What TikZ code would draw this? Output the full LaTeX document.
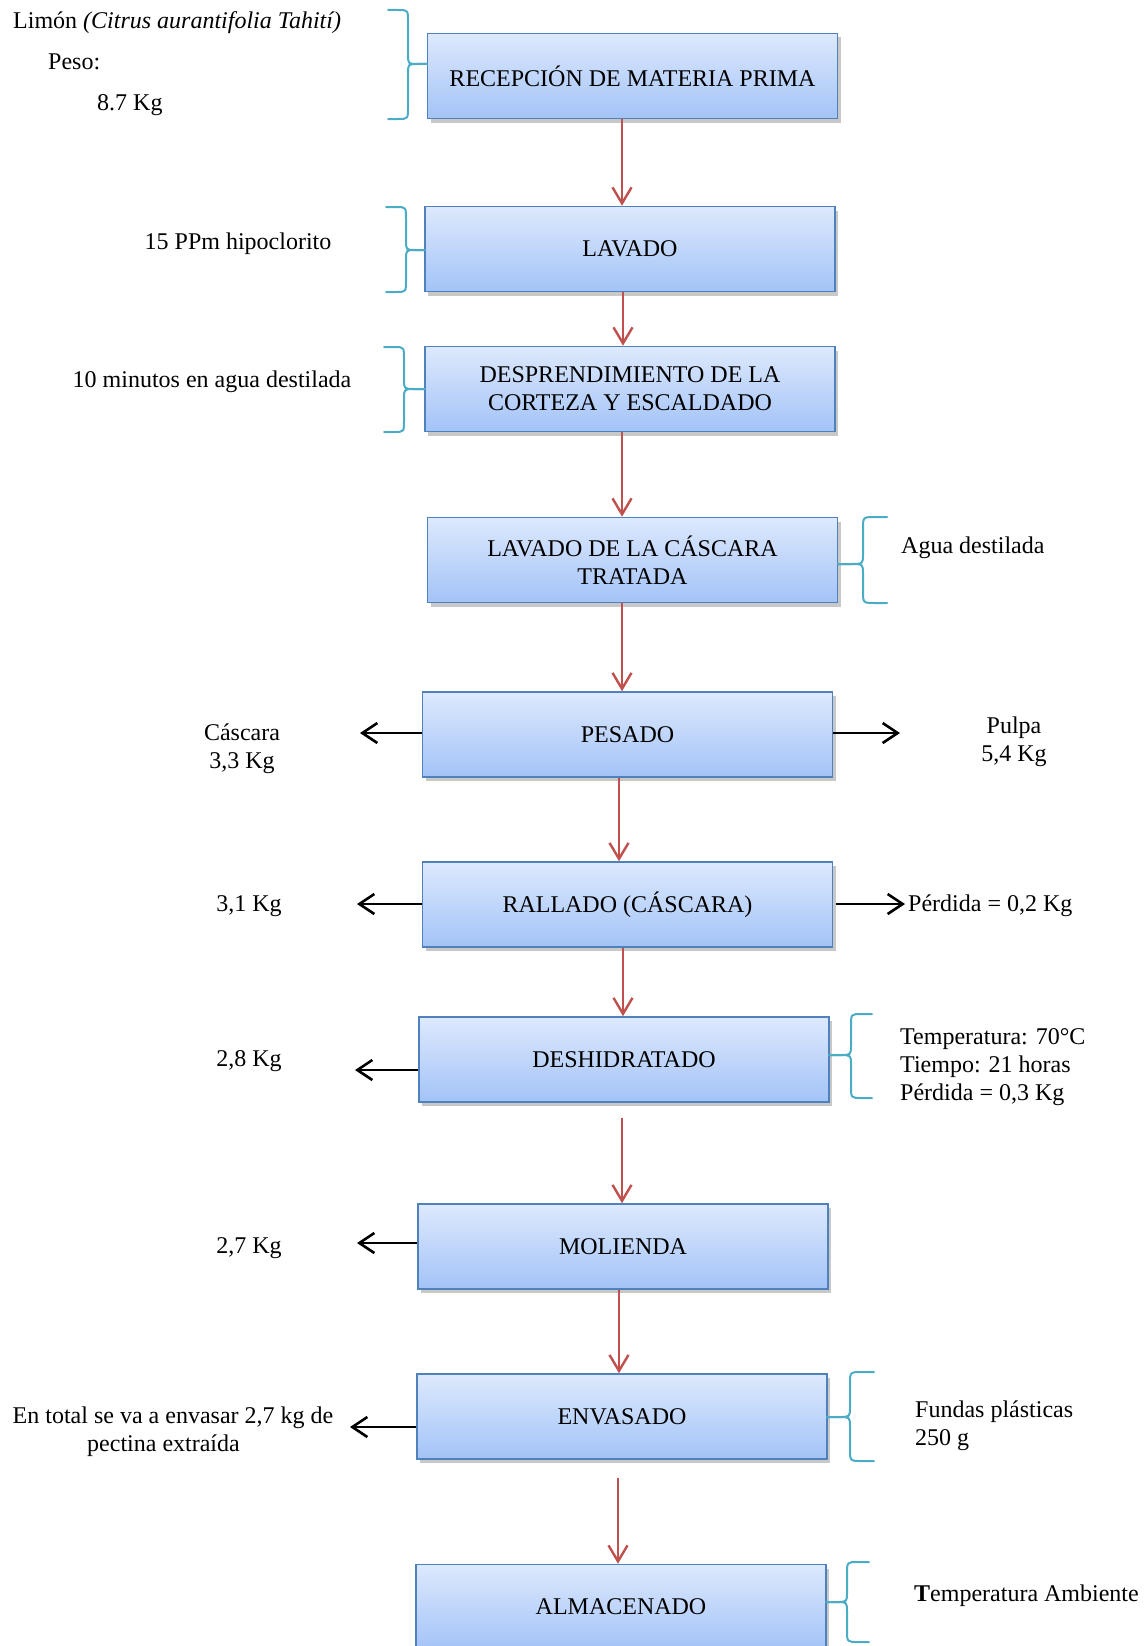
\documentclass[tikz,border=0pt]{standalone}
\usepackage{fontspec}
\setmainfont{Liberation Serif}
\usetikzlibrary{arrows.meta,shadows}
\definecolor{boxline}{HTML}{4F81BD}
\definecolor{boxtop}{HTML}{DDE9FD}
\definecolor{boxbot}{HTML}{A3C3F7}
\definecolor{bracecol}{HTML}{4BACC6}
\definecolor{redline}{HTML}{C0504D}
\newcommand\MyBrace[6]{%
  \draw[bracestyle] (#1,#4) -- ({(#1+#2)/2},#4) .. controls (#2,#4) .. (#2,{#4+12}) -- (#2,{#5-10}) .. controls (#2,#5) .. ({(#2+#3)/2},#5) -- (#3,#5);
  \draw[bracestyle] (#3,#5) -- ({(#2+#3)/2},#5) .. controls (#2,#5) .. (#2,{#5+10}) -- (#2,{#6-12}) .. controls (#2,#6) .. ({(#1+#2)/2},#6) -- (#1,#6);}
\begin{document}
\begin{tikzpicture}[x=1pt,y=-1pt,
  every node/.style={font=\fontsize{24}{28}\selectfont, inner sep=0pt},
  procbox/.style={rectangle, draw=boxline, line width=1.6pt, top color=boxtop, bottom color=boxbot,
     minimum width=410pt, minimum height=85pt, align=center,
     drop shadow={shadow xshift=3pt, shadow yshift=-4pt, opacity=0.3, fill=black!70}},
  redarr/.style={draw=redline, line width=2.4pt, -{Straight Barb[length=16pt,width=19pt,line width=2.4pt]}},
  blkarr/.style={draw=black, line width=2.6pt, -{Straight Barb[length=15pt,width=20pt,line width=2.6pt]}},
  bracestyle/.style={draw=bracecol, line width=2pt, line cap=round, line join=round},
  lbl/.style={align=left},
  clbl/.style={align=center}]
\useasboundingbox (0,0) rectangle (1145,1646);
\fill[white] (0,0) rectangle (1145,1646);

% boxes
\node[procbox] (b1) at (632.5,76) {RECEPCIÓN DE MATERIA PRIMA};
\node[procbox] (b2) at (630,249) {LAVADO};
\node[procbox] (b3) at (630,389) {DESPRENDIMIENTO DE LA\\CORTEZA Y ESCALDADO};
\node[procbox] (b4) at (632.5,560) {LAVADO DE LA CÁSCARA\\TRATADA};
\node[procbox] (b5) at (627.5,734.5) {PESADO};
\node[procbox] (b6) at (627.5,904.5) {RALLADO (CÁSCARA)};
\node[procbox] (b7) at (624,1059.5) {DESHIDRATADO};
\node[procbox] (b8) at (623,1246.5) {MOLIENDA};
\node[procbox] (b9) at (622,1416.5) {ENVASADO};
\node[procbox] (b10) at (621,1607) {ALMACENADO};

% x positions of the red connectors
\coordinate (x1) at (622,0);
\coordinate (x2) at (623,0);
\coordinate (x3) at (622,0);
\coordinate (x4) at (622,0);
\coordinate (x5) at (619,0);
\coordinate (x6) at (623,0);
\coordinate (x7) at (622,0);
\coordinate (x8) at (619,0);
\coordinate (x9) at (618,0);

\draw[redarr] (b1.south -| x1) -- (b2.north -| x1);
\draw[redarr] (b2.south -| x2) -- (b3.north -| x2);
\draw[redarr] (b3.south -| x3) -- (b4.north -| x3);
\draw[redarr] (b4.south -| x4) -- (b5.north -| x4);
\draw[redarr] (b5.south -| x5) -- (b6.north -| x5);
\draw[redarr] (b6.south -| x6) -- (b7.north -| x6);
\draw[redarr, shorten <=15pt] (b7.south -| x7) -- (b8.north -| x7);
\draw[redarr] (b8.south -| x8) -- (b9.north -| x8);
\draw[redarr, shorten <=18pt] (b9.south -| x9) -- (b10.north -| x9);

% black side arrows
\coordinate (p5l) at (360,733);
\coordinate (p5r) at (900,733);
\coordinate (p6l) at (357,904);
\coordinate (p6r) at (905,904);
\coordinate (p7l) at (355,1070);
\coordinate (p8l) at (357,1243);
\coordinate (p9l) at (350,1427);
\draw[blkarr] (b5.west |- p5l) -- (p5l);
\draw[blkarr] (b5.east |- p5r) -- (p5r);
\draw[blkarr] (b6.west |- p6l) -- (p6l);
\draw[blkarr, shorten <=3pt] (b6.east |- p6r) -- (p6r);
\draw[blkarr] (b7.west |- p7l) -- (p7l);
\draw[blkarr] (b8.west |- p8l) -- (p8l);
\draw[blkarr] (b9.west |- p9l) -- (p9l);

% braces
\MyBrace{388}{408}{427}{10}{64}{119}
\MyBrace{386}{406}{425}{207}{250}{292}
\MyBrace{384}{404}{425}{347}{389}{432}
\MyBrace{887}{863}{838}{517}{564}{603}
\MyBrace{872}{851}{829}{1014}{1055}{1098}
\MyBrace{874}{850}{827}{1372}{1417}{1461}
\MyBrace{869}{847}{826}{1562}{1602}{1642}

% labels
\node[anchor=mid west] (t1) at (13,26) {Limón \textit{(Citrus aurantifolia Tahití)}};
\node[anchor=mid west] (t2) at (48,67) {Peso:};
\node[anchor=mid west] (t3) at (97,108) {8.7 Kg};
\node[anchor=mid] (t4) at (238,247) {15 PPm hipoclorito};
\node[anchor=mid] (t5) at (212,385) {10 minutos en agua destilada};
\node[anchor=mid west] (t6) at (901,551) {Agua destilada};
\node[clbl] (t7) at (242,749) {Cáscara\\3,3 Kg};
\node[clbl] (t8) at (1014,742) {Pulpa\\5,4 Kg};
\node[anchor=mid] (t9) at (249,909) {3,1 Kg};
\node[anchor=mid west] (t10) at (908,909) {Pérdida = 0,2 Kg};
\node[anchor=mid] (t11) at (249,1064) {2,8 Kg};
\node[lbl, anchor=west] (t12) at (900,1067) {Temperatura: 70°C\\Tiempo: 21 horas\\Pérdida = 0,3 Kg};
\node[anchor=mid] (t13) at (249,1251) {2,7 Kg};
\node[clbl] (t14) at (173,1432) {En total se va a envasar 2,7 kg de\\pectina extraída\hspace*{19pt}};
\node[lbl, anchor=west] (t15) at (915,1426) {Fundas plásticas\\250 g};
\node[anchor=mid west] (t16) at (914,1599) {\textbf{T}emperatura Ambiente};
\end{tikzpicture}
\end{document}
